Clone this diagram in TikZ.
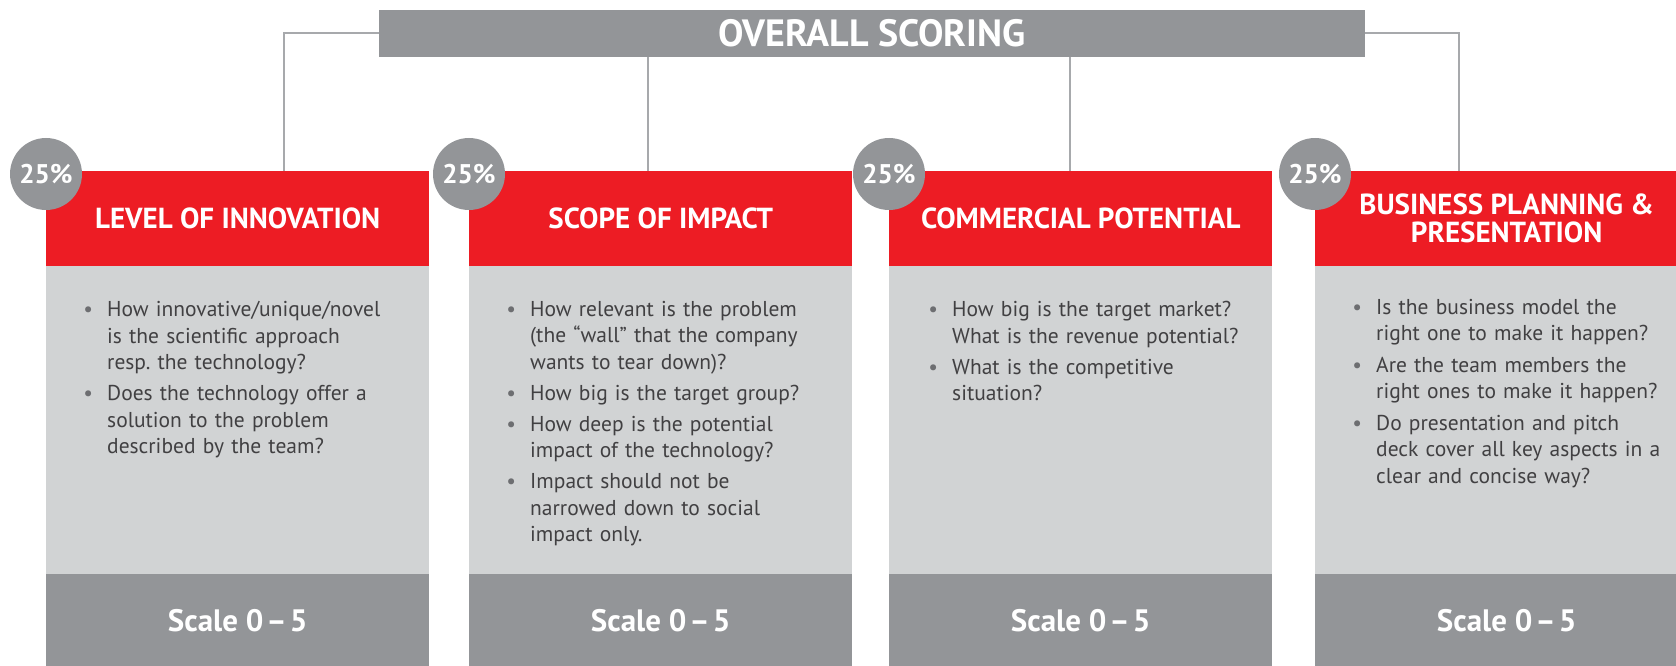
\documentclass[tikz,border=0pt]{standalone}
\usepackage{fontspec}
\setmainfont{PT Sans}
\frenchspacing
\definecolor{cred}{HTML}{ED1C24}
\definecolor{clight}{HTML}{D1D3D4}
\definecolor{cdark}{HTML}{939598}
\definecolor{cline}{HTML}{A7A9AC}
\definecolor{ctext}{HTML}{414042}
\definecolor{cbul}{HTML}{6D6E71}
\newcommand{\bitem}[1]{\noindent\makebox[0pt][r]{\textcolor{cbul}{\textbullet}\hspace{14pt}}#1\par}
\newcommand{\scaletext}{Scale 0\kern3pt–\kern3pt5}
\tikzset{
  topbox/.style={fill=cdark, text=white, font=\fontsize{38}{40}\selectfont\bfseries, minimum width=986pt, minimum height=47pt, inner sep=0pt},
  headbox/.style={fill=cred, text=white, font=\fontsize{29}{28}\selectfont\bfseries, minimum width=383pt, minimum height=95pt, inner sep=0pt, anchor=north west, align=center},
  bodybox/.style={fill=clight, minimum width=383pt, minimum height=308pt, inner sep=0pt, anchor=north west},
  scalebox/.style={fill=cdark, text=white, font=\fontsize{31}{32}\selectfont\bfseries, minimum width=383pt, minimum height=92pt, inner sep=0pt, anchor=north west},
  pct/.style={circle, fill=cdark, text=white, font=\fontsize{27}{28}\selectfont\bfseries, minimum size=72pt, inner sep=0pt},
  bullets/.style={text=ctext, font=\fontsize{21.5}{26.5}\selectfont\frenchspacing, text width=360pt, align=left, inner sep=0pt, anchor=north west},
  conn/.style={draw=cline, line width=2pt}
}
\begin{document}
\begin{tikzpicture}[x=1pt,y=-1pt]
\useasboundingbox (0,0) rectangle (1676,666);
\clip (0,0) rectangle (1676,666);

\node[topbox] (top) at (872,33.5) {OVERALL SCORING};

% columns
\node[headbox] (h1) at (46,171) {LEVEL OF INNOVATION};
\node[headbox] (h2) at (469,171) {SCOPE OF IMPACT};
\node[headbox] (h3) at (889,171) {COMMERCIAL POTENTIAL};
\node[headbox] (h4) at (1315,171) {BUSINESS PLANNING \&\\PRESENTATION};

\node[bodybox] (b1) at (46,266) {};
\node[bodybox] (b2) at (469,266) {};
\node[bodybox] (b3) at (889,266) {};
\node[bodybox] (b4) at (1315,266) {};

\node[scalebox] (s1) at (46,574) {\scaletext};
\node[scalebox] (s2) at (469,574) {\scaletext};
\node[scalebox] (s3) at (889,574) {\scaletext};
\node[scalebox] (s4) at (1315,574) {\scaletext};

% connectors
\coordinate (k1) at (284,171);
\coordinate (k2) at (648,171);
\coordinate (k3) at (1070,171);
\coordinate (k4) at (1459,171);
\draw[conn] (top.west) -| (k1);
\draw[conn] (top.south -| k2) -- (k2);
\draw[conn] (top.south -| k3) -- (k3);
\draw[conn] (top.east) -| (k4);

% percentage circles
\node[pct] (p1) at (46,174) {25\%};
\node[pct] (p2) at (469,174) {25\%};
\node[pct] (p3) at (889,174) {25\%};
\node[pct] (p4) at (1315,174) {25\%};

% bullet texts
\node[bullets] (t1) at (107,301) {\setlength{\parskip}{4.5pt}%
\bitem{How innovative/unique/novel\\is the scientific approach\\resp. the technology?}
\bitem{Does the technology offer a\\solution to the problem\\described by the team?}};
\node[bullets] (t2) at (530,301) {\setlength{\parskip}{4.5pt}%
\bitem{How relevant is the problem\\(the “wall” that the company\\wants to tear down)?}
\bitem{How big is the target group?}
\bitem{How deep is the potential\\impact of the technology?}
\bitem{Impact should not be\\narrowed down to social\\impact only.}};
\node[bullets] (t3) at (952,301) {\setlength{\parskip}{4.5pt}%
\bitem{How big is the target market?\\What is the revenue potential?}
\bitem{What is the competitive\\situation?}};
\node[bullets] (t4) at (1376,299) {\setlength{\parskip}{5pt}%
\bitem{Is the business model the\\right one to make it happen?}
\bitem{Are the team members the\\right ones to make it happen?}
\bitem{Do presentation and pitch\\deck cover all key aspects in a\\clear and concise way?}};
\end{tikzpicture}
\end{document}
